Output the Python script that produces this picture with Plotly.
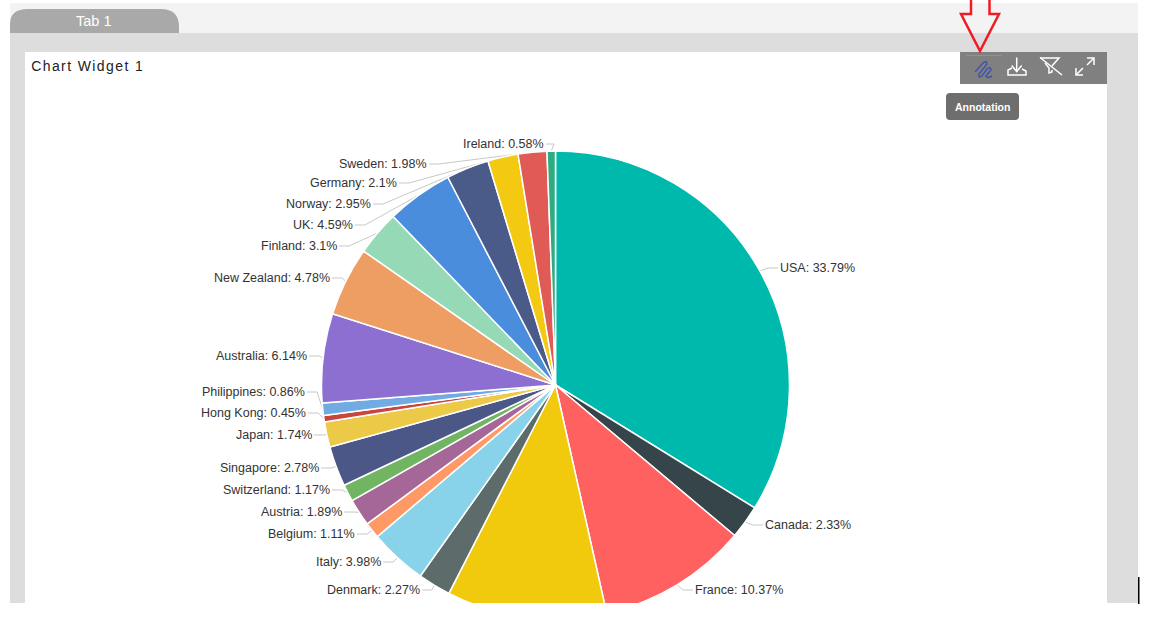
import math
import plotly.graph_objects as go

W, H = 1162, 623

categories = ["USA", "Canada", "France", "(label cut off)", "Denmark", "Italy", "Belgium", "Austria",
              "Switzerland", "Singapore", "Japan", "Hong Kong", "Philippines", "Australia",
              "New Zealand", "Finland", "UK", "Norway", "Germany", "Sweden", "Ireland"]
values = [33.79, 2.33, 10.37, 11.04, 2.27, 3.98, 1.11, 1.89, 1.17, 2.78, 1.74, 0.45, 0.86,
          6.14, 4.78, 3.1, 4.59, 2.95, 2.1, 1.98, 0.58]
colors = ["#00b9ad", "#36454a", "#ff6060", "#f1c90d", "#5d6b6b", "#89d3ea", "#ff9966", "#a56797",
          "#71b562", "#4a5787", "#ecc946", "#c9463f", "#70ace3", "#8d6fd1", "#ee9e63", "#95d9b7",
          "#4a8ddd", "#4a5b8a", "#f4c912", "#e05a56", "#2eac80"]
# label anchor (pixel x of the text edge nearest the pie, pixel y of the text middle)
label_x = [780, 765, 695, None, 420, 381, 355, 342, 330, 319, 312, 306, 305, 307, 330, 337, 353, 371, 397, 427, 544]
label_y = [268, 525, 590, None, 590, 562, 534, 512, 490, 468, 435, 413, 392, 356, 278, 246, 225, 204, 183, 164, 144]

CX, CY, R = 555.5, 385, 234


def X(x):
    return x / W


def Y(y):
    return 1 - y / H


def path(points, close=False):
    s = "M" + " L".join(f"{X(x):.5f},{Y(y):.5f}" for x, y in points)
    return s + (" Z" if close else "")


def curve(cmds):
    out = []
    for c in cmds:
        out.append(c[0] + " ".join(f"{X(c[i]):.5f},{Y(c[i + 1]):.5f}" for i in range(1, len(c), 2)))
    return " ".join(out)


def rrect(x0, y0, x1, y1, r):
    return curve([("M", x0 + r, y0), ("L", x1 - r, y0), ("Q", x1, y0, x1, y0 + r), ("L", x1, y1 - r),
                  ("Q", x1, y1, x1 - r, y1), ("L", x0 + r, y1), ("Q", x0, y1, x0, y1 - r),
                  ("L", x0, y0 + r), ("Q", x0, y0, x0 + r, y0)]) + " Z"


def rect(x0, y0, x1, y1, fill, layer="below"):
    return dict(type="rect", xref="paper", yref="paper", x0=X(x0), x1=X(x1), y0=Y(y0), y1=Y(y1),
                fillcolor=fill, line_width=0, layer=layer)


def stroke(d, color="white", width=1.5, layer="above"):
    return dict(type="path", xref="paper", yref="paper", path=d, line=dict(color=color, width=width), layer=layer)


shapes = [
    rect(10, 3, 1138, 33, "#f3f3f3"),
    rect(10, 33, 1138, 603, "#dddddd"),
    rect(25, 52, 1107, 603, "#ffffff"),
]

annotations = []


def text(x, y, s, size=12.5, color="#333333", anchor="left", weight=400):
    annotations.append(dict(xref="paper", yref="paper", x=X(x), y=Y(y), text=s, showarrow=False,
                            xanchor=anchor, yanchor="middle", xshift=0, borderpad=0, borderwidth=0,
                            font=dict(family="Liberation Sans", size=size, color=color, weight=weight)))


# leader lines and labels, from the slice mid-angles
total = sum(values)
cum = 0.0
for name, v, lx, ly in zip(categories, values, label_x, label_y):
    mid = (cum + v / 2) / total * 2 * math.pi
    cum += v
    if lx is None:
        continue
    ex, ey = CX + R * math.sin(mid), CY - R * math.cos(mid)
    right_side = math.sin(mid) > 0
    sgn = -1 if right_side else 1
    gap = 2
    elbow = 8 if name == "Ireland" else 10
    pts = [(lx + sgn * gap, ly), (lx + sgn * (gap + elbow), ly), (ex, ey)]
    shapes.append(stroke(path(pts), color="#c8c8c8", width=1, layer="below"))
    text(lx, ly, f"{name}: {v}%", anchor="left" if right_side else "right")

# cover the part of the pie that runs past the widget, then page furniture
shapes += [
    rect(0, 603, W, H, "#ffffff", "above"),
    rect(1138, 577, 1139.5, 604, "#000000", "above"),
    dict(type="path", xref="paper", yref="paper", fillcolor="#a9a9a9", line_width=0, layer="above",
         path=curve([("M", 10, 33), ("L", 10, 24), ("Q", 10, 9, 28, 9), ("L", 161, 9), ("Q", 179, 9, 179, 27),
                     ("L", 179, 33)]) + " Z"),
    rect(960, 52, 1107, 84, "#808080", "above"),
    rect(966, 55, 1002, 55.7, "#999999", "above"),
    dict(type="path", xref="paper", yref="paper", path=rrect(946, 93, 1019, 120, 4), fillcolor="#6e6e6e",
         line_width=0, layer="above"),
    # annotation icon
    stroke(curve([("M", 975, 72), ("L", 983, 63), ("Q", 987, 60, 987, 64), ("L", 979, 74), ("Q", 978, 79, 982, 76),
                  ("L", 987, 69), ("Q", 991, 66, 991, 70), ("L", 986, 76), ("Q", 987, 79, 992, 76)]),
           color="#3f55a5", width=1.5),
    # download icon
    stroke(path([(1016.7, 57.5), (1016.7, 71.5)])),
    stroke(path([(1011.7, 65.5), (1016.7, 71.5), (1021.7, 65.5)])),
    stroke(curve([("M", 1012, 68), ("L", 1008, 70), ("L", 1008, 75), ("L", 1026, 75), ("L", 1026, 71),
                  ("L", 1022, 69)])),
    # filter-off icon
    stroke(path([(1040, 58), (1059, 58), (1052, 66)])),
    stroke(path([(1040, 57.5), (1062, 75)])),
    stroke(path([(1045, 63), (1049, 68), (1049, 73), (1052, 72), (1052, 70)])),
    # expand icon
    stroke(path([(1076, 75), (1083, 68)])),
    stroke(path([(1076, 68), (1076, 75), (1083, 75)])),
    stroke(path([(1087, 65), (1094, 58)])),
    stroke(path([(1087, 58), (1094, 58), (1094, 65)])),
    # red arrow
    stroke(path([(971, -2), (971, 14), (961, 14), (980, 51), (999, 14), (989.5, 14), (989.5, -2)]),
           color="#ee1c25", width=2.5),
]

text(93.5, 20.5, "Tab 1", size=14.5, color="#ffffff", anchor="center")
text(41, 66, "Chart Widget 1", size=14, color="#222222")
text(982, 106.5, "Annotation", size=10.5, color="#ffffff", anchor="center", weight=700)

fig = go.Figure(go.Pie(
    labels=categories, values=values, sort=False, direction="clockwise", rotation=0,
    marker=dict(colors=colors, line=dict(color="#ffffff", width=1.5)),
    textinfo="none", showlegend=False,
    domain=dict(x=[X(CX - R), X(CX + R)], y=[Y(CY + R), Y(CY - R)]),
))
fig.update_layout(width=W, height=H, margin=dict(l=0, r=0, t=0, b=0), autosize=False,
                  paper_bgcolor="#ffffff", plot_bgcolor="#ffffff",
                  shapes=shapes, annotations=annotations, showlegend=False,
                  font=dict(family="Liberation Sans"))

post = """
document.body.style.margin='0';
document.documentElement.style.overflow='hidden';
document.querySelectorAll('.annotation-text').forEach(function(t){
  if(t.textContent==='Chart Widget 1'){t.style.letterSpacing='1.4px';}
});
"""
fig.write_html("out.html", config=dict(displayModeBar=False), post_script=post)
